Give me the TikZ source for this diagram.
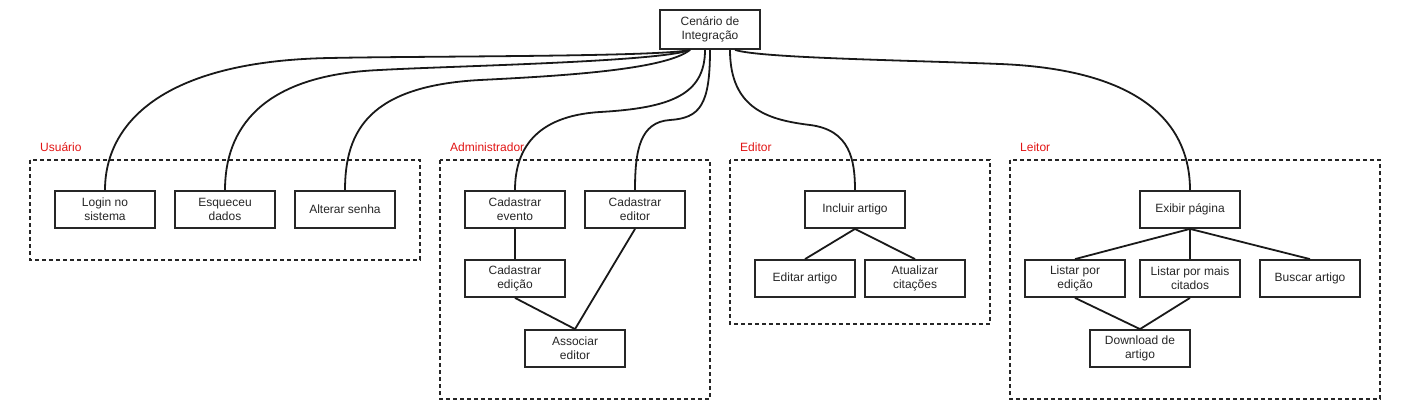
\documentclass[tikz,border=0pt]{standalone}
\usepackage{fontspec}
\setmainfont{Liberation Sans}
\begin{document}
\begin{tikzpicture}[x=1pt,y=-1pt,
  box/.style={draw=black!85,line width=1.8pt,minimum width=100pt,minimum height=37pt,inner sep=1pt,align=center,font=\fontsize{12}{14}\selectfont,text=black!85},
  grp/.style={draw=black!85,line width=1.5pt,dash pattern=on 4pt off 3pt},
  lbl/.style={anchor=west,text={rgb,255:red,225;green,20;blue,20},font=\fontsize{12}{14}\selectfont,inner sep=0pt},
  con/.style={draw=black!90,line width=1.8pt}]
\useasboundingbox (0,0) rectangle (1405,420);
% groups
\draw[grp] (30,160) rectangle (420,260);
\draw[grp] (440,160) rectangle (710,399);
\draw[grp] (730,160) rectangle (990,324);
\draw[grp] (1010,160) rectangle (1380,399);
\node[lbl] (lu) at (40,147) {Usuário};
\node[lbl] (la) at (450,147) {Administrador};
\node[lbl] (le) at (740,147) {Editor};
\node[lbl] (ll) at (1020,147) {Leitor};
% root
\node[box,minimum height=39pt] (root) at (710,29.5) {Cenário de\\Integração};
% usuario
\node[box] (login) at (105,209.5) {Login no\\sistema};
\node[box] (esq) at (225,209.5) {Esqueceu\\dados};
\node[box] (alt) at (345,209.5) {Alterar senha};
% admin
\node[box] (cev) at (515,209.5) {Cadastrar\\evento};
\node[box] (ced) at (635,209.5) {Cadastrar\\editor};
\node[box] (cedi) at (515,278.5) {Cadastrar\\edição};
\node[box] (ass) at (575,348.5) {Associar\\editor};
% editor
\node[box] (inc) at (855,209.5) {Incluir artigo};
\node[box] (edt) at (805,278.5) {Editar artigo};
\node[box] (atu) at (915,278.5) {Atualizar\\citações};
% leitor
\node[box] (exi) at (1190,209.5) {Exibir página};
\node[box] (lpe) at (1075,278.5) {Listar por\\edição};
\node[box] (lpm) at (1190,278.5) {Listar por mais\\citados};
\node[box] (bus) at (1310,278.5) {Buscar artigo};
\node[box] (dow) at (1140,348.5) {Download de\\artigo};
% curves from root
\coordinate (r1) at ([xshift=-20pt]root.south);
\coordinate (r4) at ([xshift=-5pt]root.south);
\coordinate (r5) at (root.south);
\coordinate (r6) at ([xshift=20pt]root.south);
\coordinate (r7) at ([xshift=25pt]root.south);
\draw[con] (r1) .. controls (660,57) and (420,56) .. (330,58) .. controls (160,61) and (105,125) .. (login.north);
\draw[con] (r1) .. controls (660,62) and (450,66) .. (380,70) .. controls (260,75) and (225,130) .. (esq.north);
\draw[con] (r1) .. controls (665,70) and (560,76) .. (480,80) .. controls (370,86) and (345,130) .. (alt.north);
\draw[con] (r4) .. controls (705,95) and (670,108) .. (600,112) .. controls (535,116) and (515,150) .. (cev.north);
\draw[con] (r5) .. controls (710,105) and (700,118) .. (670,120) .. controls (640,122) and (635,150) .. (ced.north);
\draw[con] (r6) .. controls (730,110) and (770,120) .. (810,125) .. controls (850,130) and (855,160) .. (inc.north);
\draw[con] (r7) .. controls (760,58) and (900,60) .. (1000,64) .. controls (1150,70) and (1190,130) .. (exi.north);
% internal
\draw[con] (cev.south) -- (cedi.north);
\draw[con] (cedi.south) -- (ass.north);
\draw[con] (ced.south) -- (ass.north);
\draw[con] (inc.south) -- (edt.north);
\draw[con] (inc.south) -- (atu.north);
\draw[con] (exi.south) -- (lpe.north);
\draw[con] (exi.south) -- (lpm.north);
\draw[con] (exi.south) -- (bus.north);
\draw[con] (lpe.south) -- (dow.north);
\draw[con] (lpm.south) -- (dow.north);
\end{tikzpicture}
\end{document}
